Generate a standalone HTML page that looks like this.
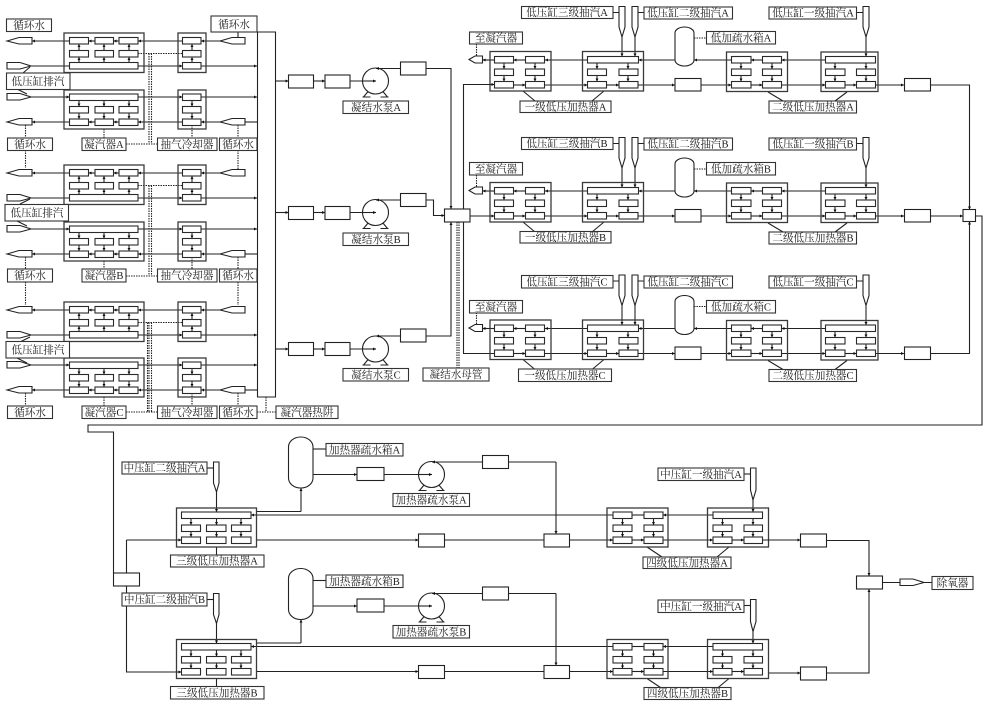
<!DOCTYPE html>
<html><head><meta charset="utf-8"><style>
html,body{margin:0;padding:0;background:#fff}
svg{display:block}
path,rect,polygon,circle{stroke:#222;stroke-width:1.1;fill:none}
.a{marker-end:url(#m)}
.d{stroke-dasharray:1.5 1}
.w{fill:#fff}
.b{fill:#fff;stroke:#2a2a2a;stroke-width:1.1}
.o{stroke:#3a3a3a;stroke-width:1.3}
.lb rect{fill:#fff;stroke:#333}
text{font-family:"Liberation Serif","Noto Serif CJK SC",serif;font-size:10.6px;text-anchor:middle;fill:#222}
</style></head><body>
<svg width="991" height="707" viewBox="0 0 991 707" xmlns="http://www.w3.org/2000/svg">
<defs>
<marker id="m" viewBox="0 0 4 4" refX="4" refY="2" markerWidth="3" markerHeight="3" orient="auto" markerUnits="userSpaceOnUse"><path d="M0 0L4 2L0 4z" style="fill:#111;stroke:none"/></marker>
<polygon id="nz" class="w" points="0,0 12,-3.5 25,-3.5 25,3 12,3"/>
<polygon id="nx" class="w" points="0,-3.5 13,-3.5 24,0 13,3 0,3"/>
<g id="pump">
<path d="M-12 16L-7 10M12 16L7 10M-13 16H-5M5 16H13"/>
<circle class="w" r="13"/>
</g>
<g id="cu">
<path class="a" d="M119 41H113.5"/><path class="a" d="M95 41H88.5"/><path class="a" d="M69.5 41H32"/>
<path class="a" d="M182.5 41H138"/><path class="a" d="M220 41H201"/>
<path class="a" d="M138 66H182.5"/><path class="a" d="M201 66H257"/><path d="M31 66H69.5"/>
<path class="a" d="M79 62.5V57"/><path class="a" d="M104 62.5V57"/><path class="a" d="M129 62.5V57"/>
<path class="a" d="M79 50.5V44"/><path class="a" d="M104 50.5V44"/><path class="a" d="M129 50.5V44"/>
<path class="a" d="M192 62.5V57"/><path class="a" d="M192 50.5V44"/>
<path class="d" d="M138 53.5H182.5"/>
<rect class="o" x="64" y="33" width="80" height="39.5"/><rect class="o" x="178" y="33" width="28" height="39.5"/>
<rect class="b" x="69.5" y="37.5" width="19" height="6.5"/><rect class="b" x="95" y="37.5" width="18.5" height="6.5"/><rect class="b" x="119" y="37.5" width="19" height="6.5"/>
<rect class="b" x="69.5" y="50.5" width="19" height="6.5"/><rect class="b" x="95" y="50.5" width="18.5" height="6.5"/><rect class="b" x="119" y="50.5" width="19" height="6.5"/>
<rect class="b" x="69.5" y="62.5" width="68.5" height="6.5"/>
<rect class="b" x="182.5" y="37.5" width="18.5" height="6.5"/><rect class="b" x="182.5" y="50.5" width="18.5" height="6.5"/><rect class="b" x="182.5" y="62.5" width="18.5" height="6.5"/>
<use href="#nz" x="7" y="41"/><use href="#nz" x="220" y="41"/><use href="#nx" x="7" y="66"/>
</g>
<g id="cl">
<path class="a" d="M119 122H113.5"/><path class="a" d="M95 122H88.5"/><path class="a" d="M69.5 122H32"/>
<path class="a" d="M182.5 122H138"/><path class="a" d="M220 122H201"/><path d="M244 122H257"/>
<path class="a" d="M31 97H69.5"/><path class="a" d="M138 97H182.5"/><path class="a" d="M201 97H257"/>
<path class="a" d="M79 100.5V106.5"/><path class="a" d="M104 100.5V106.5"/><path class="a" d="M129 100.5V106.5"/>
<path class="a" d="M79 113V119"/><path class="a" d="M104 113V119"/><path class="a" d="M129 113V119"/>
<path class="a" d="M192 100.5V106.5"/><path class="a" d="M192 113V119"/>
<path class="d" d="M25.500 125V138M104 129V138M192 125V138M238 125V138"/>
<rect class="o" x="64" y="90" width="80" height="39"/><rect class="o" x="178" y="90" width="28" height="39"/>
<rect class="b" x="69.5" y="94" width="68.5" height="6.500"/>
<rect class="b" x="69.5" y="106.500" width="19" height="6.500"/><rect class="b" x="95" y="106.500" width="18.5" height="6.500"/><rect class="b" x="119" y="106.500" width="19" height="6.500"/>
<rect class="b" x="69.5" y="119" width="19" height="6.500"/><rect class="b" x="95" y="119" width="18.5" height="6.500"/><rect class="b" x="119" y="119" width="19" height="6.500"/>
<rect class="b" x="182.5" y="94" width="18.5" height="6.500"/><rect class="b" x="182.5" y="106.500" width="18.5" height="6.500"/><rect class="b" x="182.5" y="119" width="18.5" height="6.500"/>
<use href="#nz" x="7" y="122"/><use href="#nz" x="220" y="122"/><use href="#nx" x="7" y="97"/>
</g>
<g id="row">
<path class="a" d="M525.500 60H513.500"/><path class="a" d="M494.500 60H482.500"/><path class="a" d="M587.500 60H545"/>
<path class="a" d="M675 60H638.500"/><path class="a" d="M731.500 60H694"/><path class="a" d="M762.500 60H751"/><path class="a" d="M825.500 60H781.500"/>
<path class="a" d="M513.500 85H525.500"/><path class="a" d="M545 85H587.500"/><path class="a" d="M607 85H619"/><path class="a" d="M638 85H675"/>
<path class="a" d="M701 85H731.500"/><path class="a" d="M751 85H762.500"/><path class="a" d="M781.500 85H825.500"/><path class="a" d="M845 85H856.500"/><path class="a" d="M875.500 85H904"/>
<path class="a" d="M504 63V69"/><path class="a" d="M504 75.500V81.500"/><path class="a" d="M535 63V69"/><path class="a" d="M535 75.500V81.500"/>
<path class="a" d="M597 63V69"/><path class="a" d="M597 75.500V81.500"/><path class="a" d="M628 63V69"/><path class="a" d="M628 75.500V81.500"/>
<path class="a" d="M741 63V69"/><path class="a" d="M741 75.500V81.500"/><path class="a" d="M772 63V69"/><path class="a" d="M772 75.500V81.500"/>
<path class="a" d="M835 63V69"/><path class="a" d="M835 75.500V81.500"/><path class="a" d="M866 63V69"/><path class="a" d="M866 75.500V81.500"/>
<path class="a" d="M622 37V56.500"/><path class="a" d="M635 37V56.500"/><path class="a" d="M866 37V56.500"/>
<path d="M613 12.500H619M638 12.500H644M857 12.500H863"/>
<path class="d" d="M476.500 44V56M694 38H707"/>
<path d="M523 91L535 101M604 91L592 101M768 92L783 101M847 92L835 101"/>
<rect class="o" x="490" y="51.500" width="61" height="39.500"/><rect class="o" x="582.500" y="51.500" width="61" height="39.500"/>
<rect class="o" x="726.500" y="52" width="61" height="39.500"/><rect class="o" x="821" y="52" width="57" height="39.500"/>
<rect class="b" x="494.500" y="56.500" width="19" height="6.500"/><rect class="b" x="525.500" y="56.500" width="19" height="6.500"/>
<rect class="b" x="494.500" y="69" width="19" height="6.500"/><rect class="b" x="525.500" y="69" width="19" height="6.500"/>
<rect class="b" x="494.500" y="81.500" width="19" height="6.500"/><rect class="b" x="525.500" y="81.500" width="19" height="6.500"/>
<rect class="b" x="587.500" y="56.500" width="51" height="6.500"/>
<rect class="b" x="587.500" y="69" width="19" height="6.500"/><rect class="b" x="619" y="69" width="19" height="6.500"/>
<rect class="b" x="587.500" y="81.500" width="19" height="6.500"/><rect class="b" x="619" y="81.500" width="19" height="6.500"/>
<rect class="b" x="731.500" y="56.500" width="19.500" height="6.500"/><rect class="b" x="762.500" y="56.500" width="19" height="6.500"/>
<rect class="b" x="731.500" y="69" width="19.500" height="6.500"/><rect class="b" x="762.500" y="69" width="19" height="6.500"/>
<rect class="b" x="731.500" y="81.500" width="19.500" height="6.500"/><rect class="b" x="762.500" y="81.500" width="19" height="6.500"/>
<rect class="b" x="825.500" y="56.500" width="50" height="6.500"/>
<rect class="b" x="825.500" y="69" width="19.500" height="6.500"/><rect class="b" x="856.500" y="69" width="19" height="6.500"/>
<rect class="b" x="825.500" y="81.500" width="19.500" height="6.500"/><rect class="b" x="856.500" y="81.500" width="19" height="6.500"/>
<rect class="w" x="675" y="27" width="19" height="39" rx="9.500" ry="6"/>
<rect class="w" x="675" y="78.500" width="26" height="12.500"/><rect class="w" x="904.500" y="78.500" width="26" height="12.500"/>
<polygon class="w" points="619,6.500 625,6.500 625,27 622,37 619,27"/>
<polygon class="w" points="632,6.500 638,6.500 638,27 635,37 632,27"/>
<polygon class="w" points="863,6.500 869,6.500 869,27 866,37 863,27"/>
<polygon class="w" points="469,59.500 475,56 482.500,56 482.500,63 475,63"/>
</g>
<g id="lrow">
<path d="M256 511.500H301"/><path class="a" d="M301 511.500V488"/>
<path d="M313 449H326"/><path class="a" d="M313 474.500H357"/><path d="M384 474.500H418"/><path class="a" d="M418 474.500H431"/>
<path class="a" d="M482.500 462H432"/><path d="M508.500 462H556"/><path class="a" d="M556 462V534"/>
<path d="M207 468H213.500"/><path class="a" d="M216.500 492V512"/>
<path class="a" d="M617 515H251"/><path class="a" d="M713 515H663"/><path d="M632 515H644"/>
<path class="a" d="M256 540H418.500"/><path d="M444.500 540H544"/><path class="a" d="M569.500 540H613"/><path class="a" d="M632 540H644"/><path class="a" d="M663 540H713"/><path class="a" d="M732 540H744"/>
<path class="a" d="M191 518.500V525"/><path class="a" d="M216.500 518.500V525"/><path class="a" d="M241 518.500V525"/>
<path class="a" d="M191 531V537"/><path class="a" d="M216.500 531V537"/><path class="a" d="M241 531V537"/>
<path class="a" d="M622.500 518.500V525"/><path class="a" d="M622.500 531V537"/><path class="a" d="M653.500 518.500V525"/><path class="a" d="M653.500 531V537"/>
<path class="a" d="M722.500 518.500V525"/><path class="a" d="M722.500 531V537"/><path class="a" d="M753 518.500V525"/><path class="a" d="M753 531V537"/>
<path class="a" d="M753 500V512"/><path d="M744 474H750.500"/>
<path d="M216.500 547V555M647 547L662 557M729 547L717 557"/>
<rect class="o" x="176.500" y="508" width="80" height="39"/><rect class="o" x="607" y="508" width="61" height="39"/><rect class="o" x="707.500" y="508" width="61" height="39"/>
<rect class="b" x="181.500" y="512" width="69.500" height="6.500"/>
<rect class="b" x="181.500" y="525" width="19" height="6.500"/><rect class="b" x="206.500" y="525" width="19.500" height="6.500"/><rect class="b" x="231.500" y="525" width="19.500" height="6.500"/>
<rect class="b" x="181.500" y="537" width="19" height="6.500"/><rect class="b" x="206.500" y="537" width="19.500" height="6.500"/><rect class="b" x="231.500" y="537" width="19.500" height="6.500"/>
<rect class="b" x="613" y="512" width="19" height="6.500"/><rect class="b" x="644" y="512" width="19" height="6.500"/>
<rect class="b" x="613" y="525" width="19" height="6.500"/><rect class="b" x="644" y="525" width="19" height="6.500"/>
<rect class="b" x="613" y="537" width="19" height="6.500"/><rect class="b" x="644" y="537" width="19" height="6.500"/>
<rect class="b" x="713" y="512" width="49.500" height="6.500"/>
<rect class="b" x="713" y="525" width="19" height="6.500"/><rect class="b" x="744" y="525" width="18.500" height="6.500"/>
<rect class="b" x="713" y="537" width="19" height="6.500"/><rect class="b" x="744" y="537" width="18.500" height="6.500"/>
<rect class="w" x="288.500" y="437" width="24.500" height="51" rx="12" ry="10"/>
<rect class="w" x="357" y="467.500" width="27" height="13"/><rect class="w" x="482.500" y="455.500" width="26" height="13"/>
<rect class="w" x="418.500" y="534" width="26" height="13"/><rect class="w" x="544" y="534" width="25.500" height="13"/>
<polygon class="w" points="213.500,462 219,462 219,483 216.500,492 213.500,483"/>
<polygon class="w" points="750.500,468 756,468 756,490 753,500 750.500,490"/>
</g>
</defs>

<!-- condensers -->
<use href="#cu"/><use href="#cl"/>
<use href="#cu" y="132"/><use href="#cl" y="132"/>
<use href="#cu" y="269"/><use href="#cl" y="268"/>

<path d="M238 32V37.500"/>
<path d="M23 73L30 67M17 89L27 94M20 204L30 199M17 221L27 226M20 342L30 337M17 358L27 363"/>
<path class="d" d="M25.500 150V168M238 150V169M25.500 282V305M238 282V305"/>
<path class="d" d="M149 53.500V144M151.500 53.500V144M149 185.500V276M151.500 185.500V276M149 322.500V412M151.500 322.500V412M147.500 322.500V412"/>
<path class="d" d="M126 144H157.500M126 276H157.500M126 412H157.500M257 412H276M266 397V412"/>
<path d="M257.500 32V397H275.500V32H257"/>

<!-- outlets to pumps -->
<path class="a" d="M275.500 81H288.500"/><path class="a" d="M313.500 81H325"/><path class="a" d="M350 81H375"/>
<path class="a" d="M275.500 212.500H288.500"/><path class="a" d="M313.500 212.500H325"/><path class="a" d="M350 212.500H375"/>
<path class="a" d="M275.500 349H288.500"/><path class="a" d="M313.500 349H325"/><path class="a" d="M350 349H375"/>
<use href="#pump" x="375.500" y="81"/><use href="#pump" x="375.500" y="212.500"/><use href="#pump" x="375.500" y="349"/>
<path class="a" d="M363 81H376"/><path class="a" d="M363 212.500H376"/><path class="a" d="M363 349H376"/>
<path class="a" d="M400.500 68.500H376"/><path class="a" d="M400.500 200H376"/><path class="a" d="M400.500 336H376"/>
<path class="a" d="M426 68.500H451V209"/>
<path class="a" d="M426 200H433.500V215.500H444.500"/>
<path class="a" d="M426 336H451V222"/>
<path d="M463.500 209V84.500H490M463.500 222V353.500H494.500"/>
<path class="d" d="M457 222V368M459 222V368"/>
<rect class="w" x="288.500" y="75" width="25" height="13"/><rect class="w" x="325" y="75" width="25" height="13"/><rect class="w" x="400.500" y="62" width="25.500" height="13"/>
<rect class="w" x="288.500" y="206.500" width="25" height="13"/><rect class="w" x="325" y="206.500" width="25" height="13"/><rect class="w" x="400.500" y="193.500" width="25.500" height="13"/>
<rect class="w" x="288.500" y="342.500" width="25" height="13"/><rect class="w" x="325" y="342.500" width="25" height="13"/><rect class="w" x="400.500" y="329" width="25.500" height="13"/>
<rect class="w" x="444.500" y="209" width="25.500" height="13"/>

<!-- LP heater rows -->
<use href="#row"/><use href="#row" y="131"/><use href="#row" y="268.500"/>
<path class="a" d="M470 216H494.500"/>
<path class="a" d="M463.500 84.500H494.500"/>
<path class="a" d="M930.500 85H969.500V209.500"/>
<path class="a" d="M930.500 216H963"/>
<path class="a" d="M930.500 353.500H969.500V221.500"/>
<path d="M975.500 216H982V425H88V432H113.500V573"/>
<rect class="w" x="963" y="209.500" width="12.500" height="12"/>

<!-- lower -->
<use href="#lrow"/><use href="#lrow" y="131.500"/>
<use href="#pump" x="431.500" y="474.500"/><use href="#pump" x="431.500" y="606"/>
<path class="a" d="M418 474.500H432"/><path class="a" d="M418 606H432"/>
<path class="a" d="M482.500 462H432"/><path class="a" d="M482.500 593.500H432"/>
<path d="M126.500 573V540"/><path class="a" d="M126.500 540H181.500"/>
<path class="a" d="M126.500 586V672H181.500"/>
<rect class="w" x="113.500" y="573" width="26" height="13"/>
<path class="a" d="M762.500 540H800.500"/><path class="a" d="M769 673H800.500"/>
<path class="a" d="M826.500 540.500H869V576"/>
<path class="a" d="M826.500 673H869V589"/>
<path d="M882.500 582.500H900M924 582.500H932"/>
<rect class="w" x="800.500" y="534" width="26" height="13"/><rect class="w" x="800.500" y="667" width="26" height="13"/>
<rect class="w" x="856.500" y="576" width="26" height="13"/>
<use href="#nx" x="900" y="582.500"/>

<!-- labels -->
<g class="lb">
<rect x="6.500" y="19" width="45" height="12.500"/><text x="29" y="29">循环水</text>
<rect x="211" y="16" width="46" height="16"/><text x="234" y="28">循环水</text>
<rect x="6.500" y="73" width="63.500" height="16.500"/><text x="38" y="85">低压缸排汽</text>
<rect x="7.500" y="138" width="45" height="12.500"/><text x="30" y="148">循环水</text>
<rect x="82" y="138" width="44" height="12.500"/><text x="104" y="148">凝汽器A</text>
<rect x="157.500" y="138" width="59.500" height="12.500"/><text x="187" y="148">抽气冷却器</text>
<rect x="219.500" y="138" width="37.500" height="12.500"/><text x="238" y="148">循环水</text>
<rect x="5" y="204.500" width="63.500" height="16.500"/><text x="37" y="216.500">低压缸排汽</text>
<rect x="7.500" y="269" width="45" height="13"/><text x="30" y="279">循环水</text>
<rect x="82" y="269" width="44" height="13"/><text x="104" y="279">凝汽器B</text>
<rect x="157.500" y="269" width="59.500" height="13"/><text x="187" y="279">抽气冷却器</text>
<rect x="219.500" y="269" width="37.500" height="13"/><text x="238" y="279">循环水</text>
<rect x="6" y="341.500" width="63.500" height="16.500"/><text x="38" y="353.500">低压缸排汽</text>
<rect x="7.500" y="406" width="45" height="12.500"/><text x="30" y="416">循环水</text>
<rect x="82" y="406" width="44" height="12.500"/><text x="104" y="416">凝汽器C</text>
<rect x="157.500" y="406" width="59.500" height="12.500"/><text x="187" y="416">抽气冷却器</text>
<rect x="219.500" y="406" width="37.500" height="12.500"/><text x="238" y="416">循环水</text>
<rect x="276" y="406" width="62" height="12.500"/><text x="307" y="416">凝汽器热阱</text>
<rect x="343" y="101" width="65.500" height="12.500"/><text x="376" y="111">凝结水泵A</text>
<rect x="343" y="233" width="65.500" height="12.500"/><text x="376" y="243">凝结水泵B</text>
<rect x="343" y="368.500" width="65.500" height="12.500"/><text x="376" y="378.500">凝结水泵C</text>
<rect x="423" y="368" width="66" height="13"/><text x="456" y="378">凝结水母管</text>
<rect x="469.500" y="32" width="53" height="12"/><text x="496" y="41.500">至凝汽器</text>
<rect x="469.500" y="162.500" width="53" height="12.500"/><text x="496" y="172.500">至凝汽器</text>
<rect x="469.500" y="300.500" width="53" height="12.500"/><text x="496" y="310.500">至凝汽器</text>
<rect x="521.500" y="6.500" width="91.500" height="12"/><text x="567" y="16">低压缸三级抽汽A</text>
<rect x="644" y="7" width="88.500" height="12"/><text x="688" y="16.500">低压缸二级抽汽A</text>
<rect x="769" y="7" width="87.500" height="12"/><text x="813" y="16.500">低压缸一级抽汽A</text>
<rect x="521.500" y="137.500" width="91.500" height="12"/><text x="567" y="147">低压缸三级抽汽B</text>
<rect x="644" y="138" width="88.500" height="12"/><text x="688" y="147.500">低压缸二级抽汽B</text>
<rect x="769" y="138" width="87.500" height="12"/><text x="813" y="147.500">低压缸一级抽汽B</text>
<rect x="521.500" y="275.500" width="91.500" height="12.500"/><text x="567" y="285.500">低压缸三级抽汽C</text>
<rect x="644" y="276" width="88.500" height="12"/><text x="688" y="285.500">低压缸二级抽汽C</text>
<rect x="769" y="276" width="87.500" height="12"/><text x="813" y="285.500">低压缸一级抽汽C</text>
<rect x="706.500" y="31.500" width="69" height="12.500"/><text x="741" y="41.500">低加疏水箱A</text>
<rect x="706.500" y="162.500" width="69" height="12.500"/><text x="741" y="172.500">低加疏水箱B</text>
<rect x="706.500" y="300.500" width="69" height="12.500"/><text x="741" y="310.500">低加疏水箱C</text>
<rect x="520" y="101" width="91" height="11.500"/><text x="565.500" y="110.500">一级低压加热器A</text>
<rect x="520" y="231.500" width="91" height="11.500"/><text x="565.500" y="241">一级低压加热器B</text>
<rect x="518.500" y="369" width="93" height="12.500"/><text x="565" y="379">一级低压加热器C</text>
<rect x="769" y="101" width="87.500" height="12"/><text x="813" y="110.500">二级低压加热器A</text>
<rect x="769" y="232" width="87.500" height="12"/><text x="813" y="241.500">二级低压加热器B</text>
<rect x="769" y="369.500" width="87.500" height="12"/><text x="813" y="379">二级低压加热器C</text>
<rect x="122" y="462" width="85" height="12"/><text x="164.500" y="471.500">中压缸二级抽汽A</text>
<rect x="122" y="593" width="85" height="13"/><text x="164.500" y="603">中压缸二级抽汽B</text>
<rect x="326" y="443.500" width="77" height="12.500"/><text x="364.500" y="453.500">加热器疏水箱A</text>
<rect x="326" y="575" width="77" height="12.500"/><text x="364.500" y="585">加热器疏水箱B</text>
<rect x="393" y="493.500" width="76.500" height="13"/><text x="431" y="503.500">加热器疏水泵A</text>
<rect x="393" y="625.500" width="76.500" height="12.500"/><text x="431" y="635.500">加热器疏水泵B</text>
<rect x="170.500" y="555" width="93.500" height="12"/><text x="217" y="564.500">三级低压加热器A</text>
<rect x="170.500" y="686.500" width="93.500" height="12.500"/><text x="217" y="696.500">三级低压加热器B</text>
<rect x="658" y="468" width="86" height="12.500"/><text x="701" y="478">中压缸一级抽汽A</text>
<rect x="658" y="600" width="86" height="12.500"/><text x="701" y="610">中压缸一级抽汽A</text>
<rect x="643" y="557" width="88" height="11.500"/><text x="687" y="566.500">四级低压加热器A</text>
<rect x="644" y="687.500" width="87" height="12"/><text x="687.500" y="697">四级低压加热器B</text>
<rect x="932" y="576.500" width="41" height="13"/><text x="952.500" y="586.500">除氧器</text>
</g>
</svg>
</body></html>
